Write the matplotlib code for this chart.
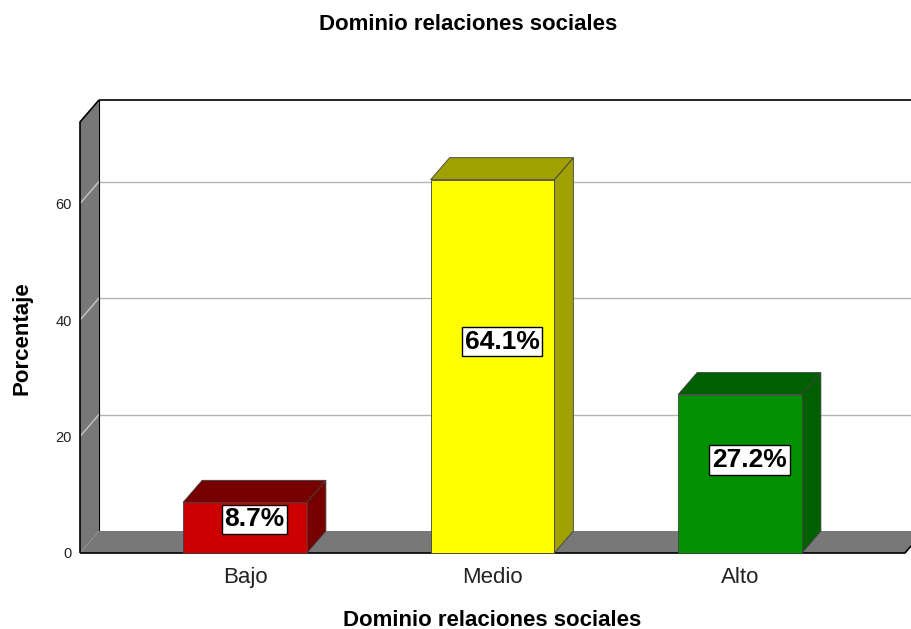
import matplotlib
matplotlib.use("Agg")
import matplotlib.pyplot as plt
from matplotlib.patches import Polygon, Rectangle
from matplotlib import font_manager

categories = ["Bajo", "Medio", "Alto"]
values = [8.7, 64.1, 27.2]
labels = ["8.7%", "64.1%", "27.2%"]
yticks = [0, 20, 40, 60]
front_colors = ["#CC0000", "#FFFF00", "#009000"]
dark_colors = ["#760000", "#A0A000", "#006000"]

plt.rcParams["font.family"] = ["Liberation Sans", "DejaVu Sans"]
names = {f.name for f in font_manager.fontManager.ttflist}
label_family = ["Liberation Sans Narrow", "Liberation Sans"] if "Liberation Sans Narrow" in names else ["Liberation Sans"]
label_size = 22 if "Liberation Sans Narrow" in names else 19

W_PX, H_PX = 912, 629
fig = plt.figure(figsize=(W_PX / 100, H_PX / 100), dpi=100)
ax = fig.add_axes([80 / W_PX, 76 / H_PX, 825 / W_PX, 431 / H_PX])
XMIN, XMAX = -2 / 3, 2 + 2 / 3
YMAX = 74
ax.set_xlim(XMIN, XMAX)
ax.set_ylim(0, YMAX)
for s in ax.spines.values():
    s.set_visible(False)
ax.patch.set_visible(False)

# depth offset in data units (19 px right, 22 px up)
fig.canvas.draw()
p0 = ax.transData.transform((0, 0))
inv = ax.transData.inverted().transform((p0[0] + 19, p0[1] + 22))
ddx, ddy = inv[0], inv[1]

wall_gray = "#787878"
# side wall
ax.add_patch(Polygon([(XMIN, 0), (XMIN, YMAX), (XMIN + ddx, YMAX + ddy), (XMIN + ddx, ddy)],
                     closed=True, facecolor=wall_gray, edgecolor="none", clip_on=False, zorder=1))
# back wall
ax.add_patch(Rectangle((XMIN + ddx, ddy), XMAX - XMIN, YMAX, facecolor="white",
                       edgecolor="none", clip_on=False, zorder=1))
# floor
ax.add_patch(Polygon([(XMIN, 0), (XMAX, 0), (XMAX + ddx, ddy), (XMIN + ddx, ddy)],
                     closed=True, facecolor=wall_gray, edgecolor="none", clip_on=False, zorder=2))
# gridlines
for t in yticks[1:]:
    ax.plot([XMIN + ddx, XMAX + ddx], [t + ddy, t + ddy], color="#B4B4B4", lw=1.0,
            clip_on=False, zorder=1.5)
    ax.plot([XMIN, XMIN + ddx], [t, t + ddy], color="#C8C8C8", lw=1.0,
            clip_on=False, zorder=1.5)
# outlines
k = dict(color="black", lw=1.2, clip_on=False, zorder=3, solid_capstyle="butt")
ax.plot([XMIN + ddx, XMAX + ddx], [YMAX + ddy, YMAX + ddy], **k)
ax.plot([XMIN + ddx, XMIN + ddx], [ddy, YMAX + ddy], color="black", lw=0.8, clip_on=False, zorder=1.6)
ax.plot([XMIN, XMIN, XMIN + ddx], [0, YMAX, YMAX + ddy], **k)
ax.plot([XMIN, XMAX, XMAX + ddx], [0, 0, ddy], **k)

# bars
bw = 0.5
for i, (v, fc, dc) in enumerate(zip(values, front_colors, dark_colors)):
    x0, x1 = i - bw / 2, i + bw / 2
    ax.add_patch(Polygon([(x1, 0), (x1 + ddx, ddy), (x1 + ddx, v + ddy), (x1, v)], closed=True,
                         facecolor=dc, edgecolor="#404040", lw=0.6, clip_on=False, zorder=4))
    ax.add_patch(Polygon([(x0, v), (x1, v), (x1 + ddx, v + ddy), (x0 + ddx, v + ddy)], closed=True,
                         facecolor=dc, edgecolor="#404040", lw=0.6, clip_on=False, zorder=4))
    ax.add_patch(Rectangle((x0, 0), bw, v, facecolor=fc, edgecolor="#404040", lw=0.6,
                           clip_on=False, zorder=5))
    ax.text(i + ddx / 2, 0.55 * v + 1.0, labels[i], ha="center", va="center",
            fontsize=label_size, fontweight="bold", family=label_family, zorder=6,
            bbox=dict(boxstyle="square,pad=0.1", facecolor="white", edgecolor="black", lw=1.0))

ax.set_yticks(yticks)
ax.set_yticklabels([str(t) for t in yticks], fontsize=10.5, color="#222222")
ax.set_xticks(range(len(categories)))
ax.set_xticklabels(categories, fontsize=16, color="#222222")
ax.tick_params(axis="y", length=0, pad=6)
ax.tick_params(axis="x", length=0, pad=10)

fig.text(468.5 / W_PX, 1 - 25 / H_PX, "Dominio relaciones sociales", ha="center", va="center",
         fontsize=16, fontweight="bold")
fig.text(492.5 / W_PX, 1 - 620 / H_PX, "Dominio relaciones sociales", ha="center", va="center",
         fontsize=16, fontweight="bold")
fig.text(22 / W_PX, 1 - 338 / H_PX, "Porcentaje", ha="center", va="center", rotation=90,
         fontsize=16, fontweight="bold")

fig.savefig("out.png", dpi=100)
